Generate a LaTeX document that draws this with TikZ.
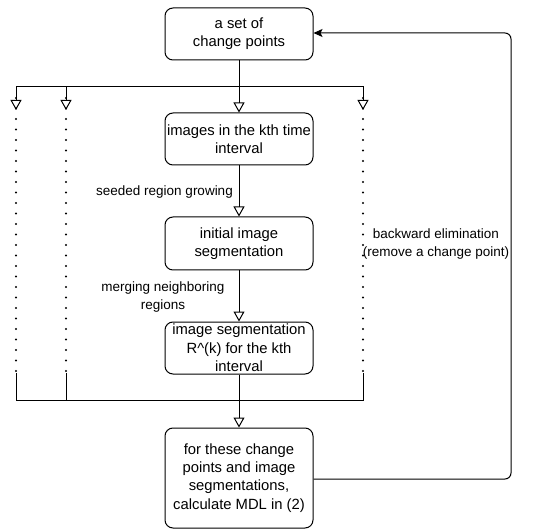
\documentclass[tikz,border=0pt]{standalone}
\usepackage{fontspec}
\setmainfont{Liberation Sans}
\usetikzlibrary{arrows.meta}
\begin{document}
\begin{tikzpicture}[x=1pt,y=-1pt,
  box/.style={draw, line width=1pt, rounded corners=8pt, minimum width=148pt, align=center, inner sep=0pt, font=\fontsize{14.8}{18.3}\selectfont},
  lbl/.style={font=\fontsize{13.5}{17.5}\selectfont, inner sep=0pt, align=center},
  conn/.style={line width=1pt},
  oarrow/.style={conn, -{Triangle[open, length=10pt, width=11pt]}},
  dots/.style={line width=2.3pt, line cap=round, dash pattern=on 0pt off 10.5pt},
  ]
\useasboundingbox (0,0) rectangle (554,529);
\node[box, minimum height=52pt] (b1) at (239,34) {a set of\\change points};
\node[box, minimum height=52pt] (b2) at (239,139) {images in the kth time\\interval};
\node[box, minimum height=53pt] (b3) at (239,243.5) {initial image\\segmentation};
\node[box, minimum height=52pt] (b4) at (239,348) {image segmentation\\R\textasciicircum(k) for the kth\\interval};
\node[box, minimum height=100pt] (b5) at (239,478) {for these change\\points and image\\segmentations,\\calculate MDL in (2)};

% top split
\coordinate (s) at (239,87);
\coordinate (t1) at (16,110);
\coordinate (t2) at (66,110);
\coordinate (t3) at (363,110);
\coordinate (e1) at (16,373);
\coordinate (e2) at (66,373);
\coordinate (e3) at (363,373);
\coordinate (m) at (239,400);
\draw[conn] (b1.south) -- (s);
\draw[oarrow] (s) -| (t1);
\draw[oarrow] (s) -| (t2);
\draw[oarrow] (s) -| (t3);
\draw[oarrow] (s) -- (b2.north);

% dotted columns
\draw[dots] ([yshift=12pt]t1) -- (e1);
\draw[dots] ([yshift=12pt]t2) -- (e2);
\draw[dots] ([yshift=12pt]t3) -- (e3);
\draw[conn] (e1) |- (m);
\draw[conn] (e2) |- (m);
\draw[conn] (e3) |- (m);

% main chain
\draw[oarrow] (b2.south) -- (b3.north);
\draw[oarrow] (b3.south) -- (b4.north);
\draw[oarrow] (b4.south) -- (b5.north);

% labels
\node[lbl, anchor=east] (l1) at (233,192) {seeded region growing};
\node[lbl] (l2) at (163,297) {merging neighboring\\regions};
\node[lbl] (l3) at (436,244) {backward elimination\\(remove a change point)};

% feedback
\coordinate (c1) at (511,479);
\coordinate (c2) at (511,33);
\draw[conn, rounded corners=6pt, -{Stealth[length=9pt, width=8pt, inset=2pt]}] (b5.east |- c1) -- (c1) -- (c2) -- (b1.east |- c2);
\end{tikzpicture}
\end{document}
